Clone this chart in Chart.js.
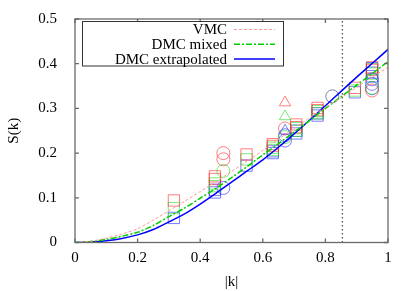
<!DOCTYPE html>
<html><head><meta charset="utf-8">
<script src="https://cdn.jsdelivr.net/npm/chart.js@4.4.1/dist/chart.umd.min.js"></script>
<style>html,body{margin:0;padding:0;background:#fff}#wrap{width:415px;height:291px}</style>
</head><body><div id="wrap"><canvas id="c" width="415" height="291"></canvas></div>
<script>
// ---- data ----
const kGrid     = [0,0.05,0.1,0.15,0.2,0.25,0.3,0.35,0.4,0.45,0.5,0.55,0.6,0.65,0.7,0.75,0.8,0.85,0.9,0.95,1.0];
const vmcCurve  = [0,0.003,0.010,0.019,0.031,0.050,0.071,0.092,0.114,0.136,0.159,0.182,0.206,0.231,0.255,0.279,0.302,0.324,0.347,0.370,0.392];
const dmcMixed  = [0,0.002,0.007,0.014,0.023,0.038,0.058,0.077,0.099,0.121,0.145,0.170,0.196,0.221,0.247,0.273,0.300,0.326,0.352,0.378,0.405];
const dmcExtrap = [0,0.001,0.004,0.009,0.017,0.029,0.046,0.064,0.086,0.110,0.135,0.160,0.185,0.213,0.243,0.274,0.306,0.338,0.370,0.401,0.432];
const cutoffK = 0.854;

const redSquares   = [[0.316,0.094],[0.447,0.148],[0.447,0.142],[0.548,0.197],[0.632,0.220],[0.632,0.216],[0.707,0.264],[0.707,0.258],[0.775,0.301],[0.775,0.296],[0.894,0.346],[0.949,0.392],[0.949,0.386]];
const greenSquares = [[0.316,0.077],[0.447,0.132],[0.447,0.126],[0.548,0.186],[0.632,0.212],[0.632,0.207],[0.707,0.256],[0.707,0.250],[0.775,0.294],[0.775,0.289],[0.894,0.340],[0.949,0.388],[0.949,0.378]];
const blueSquares  = [[0.316,0.055],[0.447,0.118],[0.447,0.112],[0.548,0.172],[0.632,0.204],[0.632,0.200],[0.707,0.250],[0.707,0.244],[0.775,0.289],[0.775,0.284],[0.894,0.336],[0.949,0.390],[0.949,0.380],[0.949,0.372]];
const redCircles   = [[0.474,0.200],[0.474,0.186],[0.671,0.255],[0.949,0.340]];
const greenCircles = [[0.474,0.160],[0.671,0.236],[0.949,0.346]];
const blueCircles  = [[0.474,0.122],[0.671,0.228],[0.671,0.240],[0.949,0.365],[0.949,0.355],[0.949,0.345]];
const greyCircles  = [[0.822,0.327]];
const redTriangles   = [[0.671,0.313]];
const greenTriangles = [[0.671,0.282]];
const blueTriangles  = [[0.671,0.250]];

const xTicks = [0,0.2,0.4,0.6,0.8,1];
const yTicks = [0,0.1,0.2,0.3,0.4,0.5];

// ---- build ----
const FONT = "'Liberation Serif','DejaVu Serif',serif";
const FS = 15;
const curve = (ys) => kGrid.map((k,i)=>({x:k,y:ys[i]}));
const pts = (arr) => arr.map(p=>({x:p[0],y:p[1]}));
function markers(arr, color, style, r){
  return {type:'scatter', data:pts(arr), pointStyle:style, pointRadius:r, pointHoverRadius:r,
    borderColor:color, backgroundColor:'rgba(0,0,0,0)', pointBorderWidth:1, showLine:false};
}
const RED='rgba(255,40,40,0.6)', GREEN='rgba(30,220,30,0.6)', BLUE='rgba(40,40,255,0.6)';
const fmt = v => String(Math.round(v*10)/10);

const curveSets = [
  {label:'VMC', type:'line', data:curve(vmcCurve), borderColor:'#ff9a9a', borderWidth:1, borderDash:[3,2], pointRadius:0, tension:0.3, fill:false},
  {label:'DMC mixed', type:'line', data:curve(dmcMixed), borderColor:'#00d000', borderWidth:1.5, borderDash:[6,2,2,2], pointRadius:0, tension:0.3, fill:false},
  {label:'DMC extrapolated', type:'line', data:curve(dmcExtrap), borderColor:'#0000ff', borderWidth:1.5, pointRadius:0, tension:0.3, fill:false},
];

const datasets = [
  ...curveSets,
  {type:'line', data:[{x:cutoffK,y:0},{x:cutoffK,y:0.5}], borderColor:'#222', borderWidth:1, borderDash:[1.5,2.5], pointRadius:0, fill:false},
  markers(redTriangles, RED, 'triangle', 6.5),
  markers(greenTriangles, GREEN, 'triangle', 6.5),
  markers(blueTriangles, BLUE, 'triangle', 6.5),
  markers(greyCircles, 'rgba(80,90,150,0.75)', 'circle', 6.5),
  markers(redCircles, RED, 'circle', 6.5),
  markers(greenCircles, GREEN, 'circle', 6.5),
  markers(blueCircles, BLUE, 'circle', 6.5),
  markers(redSquares, RED, 'rect', 8),
  markers(greenSquares, GREEN, 'rect', 8),
  markers(blueSquares, BLUE, 'rect', 8),
];

const framePlugin = {
  id:'frame',
  afterDraw(chart){
    const {ctx, chartArea:a, scales:{x,y}} = chart;
    ctx.save();
    ctx.strokeStyle='#6a6a6a'; ctx.lineWidth=1.3;
    ctx.strokeRect(a.left, a.top, a.right-a.left, a.bottom-a.top);
    const tl=4;
    ctx.beginPath();
    xTicks.forEach(v=>{const px=x.getPixelForValue(v); ctx.moveTo(px,a.bottom); ctx.lineTo(px,a.bottom-tl); ctx.moveTo(px,a.top); ctx.lineTo(px,a.top+tl);});
    yTicks.forEach(v=>{const py=y.getPixelForValue(v); ctx.moveTo(a.left,py); ctx.lineTo(a.left+tl,py); ctx.moveTo(a.right,py); ctx.lineTo(a.right-tl,py);});
    ctx.stroke();
    // legend
    const bx=82.5, by=21.5, bw=201, bh=44.5;
    ctx.fillStyle='#fff'; ctx.fillRect(bx,by,bw,bh);
    ctx.strokeStyle='#333'; ctx.lineWidth=1; ctx.strokeRect(bx,by,bw,bh);
    ctx.font=FS+"px "+FONT; ctx.textAlign='right'; ctx.textBaseline='middle'; ctx.fillStyle='#000';
    curveSets.forEach((d,i)=>{
      const yy = 29.5 + i*14.8;
      ctx.fillText(d.label, 227, yy+0.5);
      ctx.save(); ctx.strokeStyle=d.borderColor; ctx.lineWidth=d.borderWidth; ctx.setLineDash(d.borderDash||[]);
      ctx.beginPath(); ctx.moveTo(234,yy); ctx.lineTo(275,yy); ctx.stroke(); ctx.restore();
    });
    ctx.restore();
  }
};

new Chart(document.getElementById('c'), {
  type:'scatter',
  data:{datasets},
  options:{
    responsive:false, animation:false, devicePixelRatio:1,
    layout:{padding:{top:19, right:27, left:0, bottom:0}},
    plugins:{legend:{display:false}, tooltip:{enabled:false}},
    scales:{
      x:{type:'linear', min:0, max:1,
         afterFit:s=>{s.height=48.5;},
         afterBuildTicks:s=>{s.ticks=xTicks.map(v=>({value:v}));},
         grid:{display:false}, border:{display:false},
         ticks:{padding:-1, color:'#000', font:{family:FONT,size:FS}, callback:fmt},
         title:{display:true, text:'|k|', color:'#000', font:{family:FONT,size:FS}, padding:{top:0,bottom:0}}},
      y:{type:'linear', min:0, max:0.5,
         afterFit:s=>{s.width=75;},
         afterBuildTicks:s=>{s.ticks=yTicks.map(v=>({value:v}));},
         grid:{display:false}, border:{display:false},
         ticks:{padding:10, color:'#000', font:{family:FONT,size:FS}, callback:fmt},
         title:{display:true, text:'S(k)', color:'#000', font:{family:FONT,size:FS}, padding:{top:5,bottom:5}}}
    }
  },
  plugins:[framePlugin]
});
</script></body></html>
